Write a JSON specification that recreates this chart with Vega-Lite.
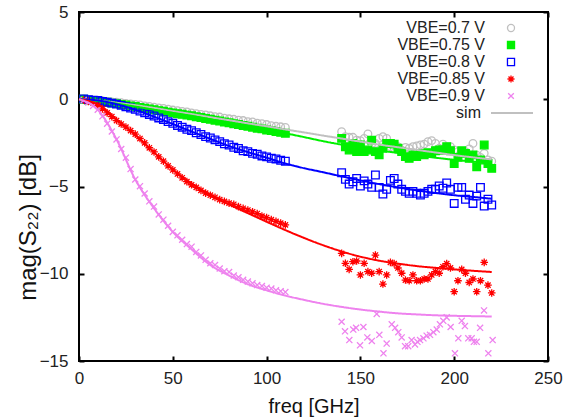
{
"$schema":"https://vega.github.io/schema/vega-lite/v6.json",
"width":469,"height":349,
"autosize":{"type":"none"},
"padding":{"left":79,"top":12,"right":16,"bottom":59},
"background":"white",
"config":{
"view":{"stroke":"black","strokeWidth":2},
"font":"Liberation Sans",
"axis":{"grid":false,"domain":false,"tickColor":"black","tickWidth":2,"tickSize":-5,"labelFont":"Liberation Sans","labelFontSize":17,"labelColor":"#222","labelFlush":false,"labelOverlap":false,"titleFont":"Liberation Sans","titleFontWeight":"normal","titleColor":"#111"}
},
"data":{"values":[
{"s":"0.7","k":"s","f":0,"v":0},{"s":"0.7","k":"s","f":10,"v":-0.08},{"s":"0.7","k":"s","f":20,"v":-0.2},{"s":"0.7","k":"s","f":30,"v":-0.34},{"s":"0.7","k":"s","f":40,"v":-0.5},{"s":"0.7","k":"s","f":50,"v":-0.68},{"s":"0.7","k":"s","f":60,"v":-0.85},{"s":"0.7","k":"s","f":70,"v":-1.03},{"s":"0.7","k":"s","f":80,"v":-1.2},{"s":"0.7","k":"s","f":90,"v":-1.38},{"s":"0.7","k":"s","f":100,"v":-1.55},{"s":"0.7","k":"s","f":110,"v":-1.73},{"s":"0.7","k":"s","f":120,"v":-1.9},{"s":"0.7","k":"s","f":130,"v":-2.08},{"s":"0.7","k":"s","f":140,"v":-2.25},{"s":"0.7","k":"s","f":150,"v":-2.43},{"s":"0.7","k":"s","f":160,"v":-2.6},{"s":"0.7","k":"s","f":170,"v":-2.75},{"s":"0.7","k":"s","f":180,"v":-2.9},{"s":"0.7","k":"s","f":190,"v":-3.05},{"s":"0.7","k":"s","f":200,"v":-3.2},{"s":"0.7","k":"s","f":210,"v":-3.33},{"s":"0.7","k":"s","f":220,"v":-3.45},
{"s":"0.75","k":"s","f":0,"v":0},{"s":"0.75","k":"s","f":10,"v":-0.1},{"s":"0.75","k":"s","f":20,"v":-0.25},{"s":"0.75","k":"s","f":30,"v":-0.42},{"s":"0.75","k":"s","f":40,"v":-0.6},{"s":"0.75","k":"s","f":50,"v":-0.78},{"s":"0.75","k":"s","f":60,"v":-0.95},{"s":"0.75","k":"s","f":70,"v":-1.15},{"s":"0.75","k":"s","f":80,"v":-1.35},{"s":"0.75","k":"s","f":90,"v":-1.55},{"s":"0.75","k":"s","f":100,"v":-1.75},{"s":"0.75","k":"s","f":110,"v":-1.95},{"s":"0.75","k":"s","f":120,"v":-2.17},{"s":"0.75","k":"s","f":130,"v":-2.4},{"s":"0.75","k":"s","f":140,"v":-2.6},{"s":"0.75","k":"s","f":150,"v":-2.78},{"s":"0.75","k":"s","f":160,"v":-2.93},{"s":"0.75","k":"s","f":170,"v":-3.08},{"s":"0.75","k":"s","f":180,"v":-3.22},{"s":"0.75","k":"s","f":190,"v":-3.35},{"s":"0.75","k":"s","f":200,"v":-3.47},{"s":"0.75","k":"s","f":210,"v":-3.57},{"s":"0.75","k":"s","f":220,"v":-3.67},
{"s":"0.8","k":"s","f":0,"v":0},{"s":"0.8","k":"s","f":10,"v":-0.07},{"s":"0.8","k":"s","f":20,"v":-0.28},{"s":"0.8","k":"s","f":30,"v":-0.6},{"s":"0.8","k":"s","f":40,"v":-1.0},{"s":"0.8","k":"s","f":50,"v":-1.42},{"s":"0.8","k":"s","f":60,"v":-1.85},{"s":"0.8","k":"s","f":70,"v":-2.27},{"s":"0.8","k":"s","f":80,"v":-2.68},{"s":"0.8","k":"s","f":90,"v":-3.03},{"s":"0.8","k":"s","f":100,"v":-3.35},{"s":"0.8","k":"s","f":110,"v":-3.68},{"s":"0.8","k":"s","f":120,"v":-3.95},{"s":"0.8","k":"s","f":130,"v":-4.18},{"s":"0.8","k":"s","f":140,"v":-4.42},{"s":"0.8","k":"s","f":150,"v":-4.65},{"s":"0.8","k":"s","f":160,"v":-4.86},{"s":"0.8","k":"s","f":170,"v":-5.05},{"s":"0.8","k":"s","f":180,"v":-5.22},{"s":"0.8","k":"s","f":190,"v":-5.37},{"s":"0.8","k":"s","f":200,"v":-5.5},{"s":"0.8","k":"s","f":210,"v":-5.6},{"s":"0.8","k":"s","f":220,"v":-5.7},
{"s":"0.85","k":"s","f":0,"v":0},{"s":"0.85","k":"s","f":10,"v":-0.3},{"s":"0.85","k":"s","f":20,"v":-1.15},{"s":"0.85","k":"s","f":30,"v":-2.05},{"s":"0.85","k":"s","f":40,"v":-3.05},{"s":"0.85","k":"s","f":50,"v":-4.02},{"s":"0.85","k":"s","f":60,"v":-4.82},{"s":"0.85","k":"s","f":70,"v":-5.48},{"s":"0.85","k":"s","f":80,"v":-6.03},{"s":"0.85","k":"s","f":90,"v":-6.53},{"s":"0.85","k":"s","f":100,"v":-7.02},{"s":"0.85","k":"s","f":110,"v":-7.5},{"s":"0.85","k":"s","f":120,"v":-7.95},{"s":"0.85","k":"s","f":130,"v":-8.36},{"s":"0.85","k":"s","f":140,"v":-8.72},{"s":"0.85","k":"s","f":150,"v":-9.02},{"s":"0.85","k":"s","f":160,"v":-9.25},{"s":"0.85","k":"s","f":170,"v":-9.42},{"s":"0.85","k":"s","f":180,"v":-9.56},{"s":"0.85","k":"s","f":190,"v":-9.66},{"s":"0.85","k":"s","f":200,"v":-9.75},{"s":"0.85","k":"s","f":210,"v":-9.83},{"s":"0.85","k":"s","f":220,"v":-9.9},
{"s":"0.9","k":"s","f":0,"v":0},{"s":"0.9","k":"s","f":10,"v":-0.6},{"s":"0.9","k":"s","f":20,"v":-2.3},{"s":"0.9","k":"s","f":30,"v":-4.6},{"s":"0.9","k":"s","f":40,"v":-6.25},{"s":"0.9","k":"s","f":50,"v":-7.6},{"s":"0.9","k":"s","f":60,"v":-8.6},{"s":"0.9","k":"s","f":70,"v":-9.5},{"s":"0.9","k":"s","f":80,"v":-10.1},{"s":"0.9","k":"s","f":90,"v":-10.6},{"s":"0.9","k":"s","f":100,"v":-10.95},{"s":"0.9","k":"s","f":110,"v":-11.25},{"s":"0.9","k":"s","f":120,"v":-11.5},{"s":"0.9","k":"s","f":130,"v":-11.72},{"s":"0.9","k":"s","f":140,"v":-11.9},{"s":"0.9","k":"s","f":150,"v":-12.05},{"s":"0.9","k":"s","f":160,"v":-12.17},{"s":"0.9","k":"s","f":170,"v":-12.27},{"s":"0.9","k":"s","f":180,"v":-12.33},{"s":"0.9","k":"s","f":190,"v":-12.38},{"s":"0.9","k":"s","f":200,"v":-12.41},{"s":"0.9","k":"s","f":210,"v":-12.43},{"s":"0.9","k":"s","f":220,"v":-12.45},

{"s":"0.7","k":"m","f":2.5,"v":0.02},{"s":"0.7","k":"m","f":5,"v":-0.02},{"s":"0.7","k":"m","f":7.5,"v":-0.05},{"s":"0.7","k":"m","f":10,"v":-0.06},{"s":"0.7","k":"m","f":12.5,"v":-0.09},{"s":"0.7","k":"m","f":15,"v":-0.12},{"s":"0.7","k":"m","f":17.5,"v":-0.15},{"s":"0.7","k":"m","f":20,"v":-0.17},{"s":"0.7","k":"m","f":22.5,"v":-0.2},{"s":"0.7","k":"m","f":25,"v":-0.24},{"s":"0.7","k":"m","f":27.5,"v":-0.27},{"s":"0.7","k":"m","f":30,"v":-0.3},{"s":"0.7","k":"m","f":32.5,"v":-0.33},{"s":"0.7","k":"m","f":35,"v":-0.38},{"s":"0.7","k":"m","f":37.5,"v":-0.41},{"s":"0.7","k":"m","f":40,"v":-0.45},{"s":"0.7","k":"m","f":42.5,"v":-0.5},{"s":"0.7","k":"m","f":45,"v":-0.53},{"s":"0.7","k":"m","f":47.5,"v":-0.57},{"s":"0.7","k":"m","f":50,"v":-0.62},{"s":"0.7","k":"m","f":52.5,"v":-0.66},{"s":"0.7","k":"m","f":55,"v":-0.7},{"s":"0.7","k":"m","f":57.5,"v":-0.73},{"s":"0.7","k":"m","f":60,"v":-0.78},{"s":"0.7","k":"m","f":62.5,"v":-0.83},{"s":"0.7","k":"m","f":65,"v":-0.87},{"s":"0.7","k":"m","f":67.5,"v":-0.9},{"s":"0.7","k":"m","f":70,"v":-0.95},{"s":"0.7","k":"m","f":72.5,"v":-1.0},{"s":"0.7","k":"m","f":75,"v":-1.02},{"s":"0.7","k":"m","f":77.5,"v":-1.08},{"s":"0.7","k":"m","f":80,"v":-1.12},{"s":"0.7","k":"m","f":82.5,"v":-1.15},{"s":"0.7","k":"m","f":85,"v":-1.2},{"s":"0.7","k":"m","f":87.5,"v":-1.22},{"s":"0.7","k":"m","f":90,"v":-1.29},{"s":"0.7","k":"m","f":92.5,"v":-1.3},{"s":"0.7","k":"m","f":95,"v":-1.37},{"s":"0.7","k":"m","f":97.5,"v":-1.4},{"s":"0.7","k":"m","f":100,"v":-1.45},{"s":"0.7","k":"m","f":102.5,"v":-1.52},{"s":"0.7","k":"m","f":105,"v":-1.55},{"s":"0.7","k":"m","f":107.5,"v":-1.58},{"s":"0.7","k":"m","f":110,"v":-1.62},
{"s":"0.7","k":"m","f":140,"v":-1.86},{"s":"0.7","k":"m","f":142,"v":-2.15},{"s":"0.7","k":"m","f":144,"v":-2.18},{"s":"0.7","k":"m","f":146,"v":-2.18},{"s":"0.7","k":"m","f":148,"v":-2.34},{"s":"0.7","k":"m","f":150,"v":-2.37},{"s":"0.7","k":"m","f":152,"v":-2.24},{"s":"0.7","k":"m","f":154,"v":-1.99},{"s":"0.7","k":"m","f":156,"v":-2.57},{"s":"0.7","k":"m","f":158,"v":-2.53},{"s":"0.7","k":"m","f":160,"v":-2.24},{"s":"0.7","k":"m","f":162,"v":-2.15},{"s":"0.7","k":"m","f":164,"v":-2.24},{"s":"0.7","k":"m","f":166,"v":-2.72},{"s":"0.7","k":"m","f":168,"v":-2.81},{"s":"0.7","k":"m","f":170,"v":-2.72},{"s":"0.7","k":"m","f":172,"v":-2.91},{"s":"0.7","k":"m","f":174,"v":-2.76},{"s":"0.7","k":"m","f":176,"v":-2.81},{"s":"0.7","k":"m","f":178,"v":-2.72},{"s":"0.7","k":"m","f":180,"v":-2.68},{"s":"0.7","k":"m","f":182,"v":-2.62},{"s":"0.7","k":"m","f":184,"v":-2.57},{"s":"0.7","k":"m","f":186,"v":-2.43},{"s":"0.7","k":"m","f":188,"v":-2.37},{"s":"0.7","k":"m","f":190,"v":-2.53},{"s":"0.7","k":"m","f":192,"v":-2.81},{"s":"0.7","k":"m","f":194,"v":-2.57},{"s":"0.7","k":"m","f":196,"v":-2.72},{"s":"0.7","k":"m","f":198,"v":-2.72},{"s":"0.7","k":"m","f":200,"v":-2.9},{"s":"0.7","k":"m","f":202,"v":-3.0},{"s":"0.7","k":"m","f":204,"v":-3.1},{"s":"0.7","k":"m","f":206,"v":-3.0},{"s":"0.7","k":"m","f":208,"v":-2.85},{"s":"0.7","k":"m","f":210,"v":-2.53},{"s":"0.7","k":"m","f":212,"v":-3.2},{"s":"0.7","k":"m","f":214,"v":-3.33},{"s":"0.7","k":"m","f":216,"v":-3.1},{"s":"0.7","k":"m","f":218,"v":-3.48},{"s":"0.7","k":"m","f":220,"v":-3.55},

{"s":"0.75","k":"m","f":2.5,"v":0.0},{"s":"0.75","k":"m","f":5,"v":-0.05},{"s":"0.75","k":"m","f":7.5,"v":-0.08},{"s":"0.75","k":"m","f":10,"v":-0.1},{"s":"0.75","k":"m","f":12.5,"v":-0.14},{"s":"0.75","k":"m","f":15,"v":-0.17},{"s":"0.75","k":"m","f":17.5,"v":-0.22},{"s":"0.75","k":"m","f":20,"v":-0.25},{"s":"0.75","k":"m","f":22.5,"v":-0.3},{"s":"0.75","k":"m","f":25,"v":-0.33},{"s":"0.75","k":"m","f":27.5,"v":-0.38},{"s":"0.75","k":"m","f":30,"v":-0.42},{"s":"0.75","k":"m","f":32.5,"v":-0.47},{"s":"0.75","k":"m","f":35,"v":-0.51},{"s":"0.75","k":"m","f":37.5,"v":-0.55},{"s":"0.75","k":"m","f":40,"v":-0.6},{"s":"0.75","k":"m","f":42.5,"v":-0.65},{"s":"0.75","k":"m","f":45,"v":-0.69},{"s":"0.75","k":"m","f":47.5,"v":-0.74},{"s":"0.75","k":"m","f":50,"v":-0.78},{"s":"0.75","k":"m","f":52.5,"v":-0.83},{"s":"0.75","k":"m","f":55,"v":-0.86},{"s":"0.75","k":"m","f":57.5,"v":-0.91},{"s":"0.75","k":"m","f":60,"v":-0.95},{"s":"0.75","k":"m","f":62.5,"v":-1.0},{"s":"0.75","k":"m","f":65,"v":-1.05},{"s":"0.75","k":"m","f":67.5,"v":-1.1},{"s":"0.75","k":"m","f":70,"v":-1.15},{"s":"0.75","k":"m","f":72.5,"v":-1.2},{"s":"0.75","k":"m","f":75,"v":-1.25},{"s":"0.75","k":"m","f":77.5,"v":-1.3},{"s":"0.75","k":"m","f":80,"v":-1.35},{"s":"0.75","k":"m","f":82.5,"v":-1.4},{"s":"0.75","k":"m","f":85,"v":-1.45},{"s":"0.75","k":"m","f":87.5,"v":-1.5},{"s":"0.75","k":"m","f":90,"v":-1.55},{"s":"0.75","k":"m","f":92.5,"v":-1.6},{"s":"0.75","k":"m","f":95,"v":-1.66},{"s":"0.75","k":"m","f":97.5,"v":-1.7},{"s":"0.75","k":"m","f":100,"v":-1.76},{"s":"0.75","k":"m","f":102.5,"v":-1.8},{"s":"0.75","k":"m","f":105,"v":-1.85},{"s":"0.75","k":"m","f":107.5,"v":-1.9},{"s":"0.75","k":"m","f":110,"v":-1.95},
{"s":"0.75","k":"m","f":140,"v":-2.24},{"s":"0.75","k":"m","f":142,"v":-2.72},{"s":"0.75","k":"m","f":144,"v":-2.91},{"s":"0.75","k":"m","f":146,"v":-2.53},{"s":"0.75","k":"m","f":148,"v":-3.0},{"s":"0.75","k":"m","f":150,"v":-2.62},{"s":"0.75","k":"m","f":152,"v":-3.0},{"s":"0.75","k":"m","f":154,"v":-2.91},{"s":"0.75","k":"m","f":156,"v":-2.34},{"s":"0.75","k":"m","f":158,"v":-3.0},{"s":"0.75","k":"m","f":160,"v":-3.19},{"s":"0.75","k":"m","f":162,"v":-2.81},{"s":"0.75","k":"m","f":164,"v":-2.53},{"s":"0.75","k":"m","f":166,"v":-2.53},{"s":"0.75","k":"m","f":168,"v":-2.57},{"s":"0.75","k":"m","f":170,"v":-2.81},{"s":"0.75","k":"m","f":172,"v":-3.0},{"s":"0.75","k":"m","f":174,"v":-3.29},{"s":"0.75","k":"m","f":176,"v":-3.39},{"s":"0.75","k":"m","f":178,"v":-3.19},{"s":"0.75","k":"m","f":180,"v":-3.29},{"s":"0.75","k":"m","f":182,"v":-3.1},{"s":"0.75","k":"m","f":184,"v":-3.19},{"s":"0.75","k":"m","f":186,"v":-3.06},{"s":"0.75","k":"m","f":188,"v":-3.1},{"s":"0.75","k":"m","f":190,"v":-2.95},{"s":"0.75","k":"m","f":192,"v":-2.91},{"s":"0.75","k":"m","f":194,"v":-2.91},{"s":"0.75","k":"m","f":196,"v":-2.72},{"s":"0.75","k":"m","f":198,"v":-2.95},{"s":"0.75","k":"m","f":200,"v":-3.68},{"s":"0.75","k":"m","f":202,"v":-3.33},{"s":"0.75","k":"m","f":204,"v":-2.95},{"s":"0.75","k":"m","f":206,"v":-3.1},{"s":"0.75","k":"m","f":208,"v":-3.39},{"s":"0.75","k":"m","f":210,"v":-3.19},{"s":"0.75","k":"m","f":212,"v":-3.87},{"s":"0.75","k":"m","f":214,"v":-3.48},{"s":"0.75","k":"m","f":216,"v":-2.62},{"s":"0.75","k":"m","f":218,"v":-3.68},{"s":"0.75","k":"m","f":220,"v":-3.96},

{"s":"0.8","k":"m","f":2.5,"v":0.02},{"s":"0.8","k":"m","f":5,"v":-0.02},{"s":"0.8","k":"m","f":7.5,"v":-0.05},{"s":"0.8","k":"m","f":10,"v":-0.07},{"s":"0.8","k":"m","f":12.5,"v":-0.12},{"s":"0.8","k":"m","f":15,"v":-0.17},{"s":"0.8","k":"m","f":17.5,"v":-0.22},{"s":"0.8","k":"m","f":20,"v":-0.28},{"s":"0.8","k":"m","f":22.5,"v":-0.35},{"s":"0.8","k":"m","f":25,"v":-0.43},{"s":"0.8","k":"m","f":27.5,"v":-0.5},{"s":"0.8","k":"m","f":30,"v":-0.58},{"s":"0.8","k":"m","f":32.5,"v":-0.68},{"s":"0.8","k":"m","f":35,"v":-0.77},{"s":"0.8","k":"m","f":37.5,"v":-0.87},{"s":"0.8","k":"m","f":40,"v":-0.96},{"s":"0.8","k":"m","f":42.5,"v":-1.07},{"s":"0.8","k":"m","f":45,"v":-1.17},{"s":"0.8","k":"m","f":47.5,"v":-1.28},{"s":"0.8","k":"m","f":50,"v":-1.38},{"s":"0.8","k":"m","f":52.5,"v":-1.5},{"s":"0.8","k":"m","f":55,"v":-1.6},{"s":"0.8","k":"m","f":57.5,"v":-1.72},{"s":"0.8","k":"m","f":60,"v":-1.8},{"s":"0.8","k":"m","f":62.5,"v":-1.92},{"s":"0.8","k":"m","f":65,"v":-2.02},{"s":"0.8","k":"m","f":67.5,"v":-2.14},{"s":"0.8","k":"m","f":70,"v":-2.22},{"s":"0.8","k":"m","f":72.5,"v":-2.33},{"s":"0.8","k":"m","f":75,"v":-2.43},{"s":"0.8","k":"m","f":77.5,"v":-2.55},{"s":"0.8","k":"m","f":80,"v":-2.62},{"s":"0.8","k":"m","f":82.5,"v":-2.75},{"s":"0.8","k":"m","f":85,"v":-2.82},{"s":"0.8","k":"m","f":87.5,"v":-2.95},{"s":"0.8","k":"m","f":90,"v":-3.0},{"s":"0.8","k":"m","f":92.5,"v":-3.1},{"s":"0.8","k":"m","f":95,"v":-3.15},{"s":"0.8","k":"m","f":97.5,"v":-3.25},{"s":"0.8","k":"m","f":100,"v":-3.3},{"s":"0.8","k":"m","f":102.5,"v":-3.38},{"s":"0.8","k":"m","f":105,"v":-3.42},{"s":"0.8","k":"m","f":107.5,"v":-3.5},{"s":"0.8","k":"m","f":110,"v":-3.55},
{"s":"0.8","k":"m","f":140,"v":-4.21},{"s":"0.8","k":"m","f":142,"v":-4.59},{"s":"0.8","k":"m","f":144,"v":-4.86},{"s":"0.8","k":"m","f":146,"v":-4.73},{"s":"0.8","k":"m","f":148,"v":-4.54},{"s":"0.8","k":"m","f":150,"v":-4.97},{"s":"0.8","k":"m","f":152,"v":-4.68},{"s":"0.8","k":"m","f":154,"v":-4.86},{"s":"0.8","k":"m","f":156,"v":-5.05},{"s":"0.8","k":"m","f":158,"v":-4.34},{"s":"0.8","k":"m","f":160,"v":-5.05},{"s":"0.8","k":"m","f":162,"v":-5.43},{"s":"0.8","k":"m","f":164,"v":-5.16},{"s":"0.8","k":"m","f":166,"v":-4.65},{"s":"0.8","k":"m","f":168,"v":-4.54},{"s":"0.8","k":"m","f":170,"v":-4.86},{"s":"0.8","k":"m","f":172,"v":-5.16},{"s":"0.8","k":"m","f":174,"v":-5.28},{"s":"0.8","k":"m","f":176,"v":-5.39},{"s":"0.8","k":"m","f":178,"v":-5.28},{"s":"0.8","k":"m","f":180,"v":-5.39},{"s":"0.8","k":"m","f":182,"v":-5.49},{"s":"0.8","k":"m","f":184,"v":-5.39},{"s":"0.8","k":"m","f":186,"v":-5.28},{"s":"0.8","k":"m","f":188,"v":-5.16},{"s":"0.8","k":"m","f":190,"v":-5.16},{"s":"0.8","k":"m","f":192,"v":-4.97},{"s":"0.8","k":"m","f":194,"v":-5.1},{"s":"0.8","k":"m","f":196,"v":-4.8},{"s":"0.8","k":"m","f":198,"v":-5.16},{"s":"0.8","k":"m","f":200,"v":-5.97},{"s":"0.8","k":"m","f":202,"v":-5.05},{"s":"0.8","k":"m","f":204,"v":-5.05},{"s":"0.8","k":"m","f":206,"v":-5.73},{"s":"0.8","k":"m","f":208,"v":-5.49},{"s":"0.8","k":"m","f":210,"v":-5.97},{"s":"0.8","k":"m","f":212,"v":-5.55},{"s":"0.8","k":"m","f":214,"v":-5.05},{"s":"0.8","k":"m","f":216,"v":-6.12},{"s":"0.8","k":"m","f":218,"v":-5.73},{"s":"0.8","k":"m","f":220,"v":-6.06},

{"s":"0.85","k":"m","f":2.5,"v":-0.05},{"s":"0.85","k":"m","f":5,"v":-0.12},{"s":"0.85","k":"m","f":7.5,"v":-0.22},{"s":"0.85","k":"m","f":10,"v":-0.35},{"s":"0.85","k":"m","f":12.5,"v":-0.55},{"s":"0.85","k":"m","f":15,"v":-0.78},{"s":"0.85","k":"m","f":17.5,"v":-1.0},{"s":"0.85","k":"m","f":20,"v":-1.22},{"s":"0.85","k":"m","f":22.5,"v":-1.42},{"s":"0.85","k":"m","f":25,"v":-1.6},{"s":"0.85","k":"m","f":27.5,"v":-1.8},{"s":"0.85","k":"m","f":30,"v":-2.0},{"s":"0.85","k":"m","f":32.5,"v":-2.25},{"s":"0.85","k":"m","f":35,"v":-2.5},{"s":"0.85","k":"m","f":37.5,"v":-2.78},{"s":"0.85","k":"m","f":40,"v":-3.02},{"s":"0.85","k":"m","f":42.5,"v":-3.3},{"s":"0.85","k":"m","f":45,"v":-3.55},{"s":"0.85","k":"m","f":47.5,"v":-3.82},{"s":"0.85","k":"m","f":50,"v":-4.05},{"s":"0.85","k":"m","f":52.5,"v":-4.28},{"s":"0.85","k":"m","f":55,"v":-4.5},{"s":"0.85","k":"m","f":57.5,"v":-4.72},{"s":"0.85","k":"m","f":60,"v":-4.9},{"s":"0.85","k":"m","f":62.5,"v":-5.05},{"s":"0.85","k":"m","f":65,"v":-5.22},{"s":"0.85","k":"m","f":67.5,"v":-5.38},{"s":"0.85","k":"m","f":70,"v":-5.5},{"s":"0.85","k":"m","f":72.5,"v":-5.62},{"s":"0.85","k":"m","f":75,"v":-5.75},{"s":"0.85","k":"m","f":77.5,"v":-5.85},{"s":"0.85","k":"m","f":80,"v":-5.95},{"s":"0.85","k":"m","f":82.5,"v":-6.02},{"s":"0.85","k":"m","f":85,"v":-6.15},{"s":"0.85","k":"m","f":87.5,"v":-6.25},{"s":"0.85","k":"m","f":90,"v":-6.35},{"s":"0.85","k":"m","f":92.5,"v":-6.45},{"s":"0.85","k":"m","f":95,"v":-6.55},{"s":"0.85","k":"m","f":97.5,"v":-6.7},{"s":"0.85","k":"m","f":100,"v":-6.78},{"s":"0.85","k":"m","f":102.5,"v":-6.9},{"s":"0.85","k":"m","f":105,"v":-7.0},{"s":"0.85","k":"m","f":107.5,"v":-7.1},{"s":"0.85","k":"m","f":110,"v":-7.2},
{"s":"0.85","k":"m","f":140,"v":-8.83},{"s":"0.85","k":"m","f":142,"v":-9.4},{"s":"0.85","k":"m","f":144,"v":-9.75},{"s":"0.85","k":"m","f":146,"v":-9.31},{"s":"0.85","k":"m","f":148,"v":-9.27},{"s":"0.85","k":"m","f":150,"v":-10.07},{"s":"0.85","k":"m","f":152,"v":-9.4},{"s":"0.85","k":"m","f":154,"v":-9.88},{"s":"0.85","k":"m","f":156,"v":-9.97},{"s":"0.85","k":"m","f":158,"v":-8.93},{"s":"0.85","k":"m","f":160,"v":-9.88},{"s":"0.85","k":"m","f":162,"v":-10.59},{"s":"0.85","k":"m","f":164,"v":-10.07},{"s":"0.85","k":"m","f":166,"v":-9.35},{"s":"0.85","k":"m","f":168,"v":-9.42},{"s":"0.85","k":"m","f":170,"v":-9.67},{"s":"0.85","k":"m","f":172,"v":-9.97},{"s":"0.85","k":"m","f":174,"v":-10.36},{"s":"0.85","k":"m","f":176,"v":-10.4},{"s":"0.85","k":"m","f":178,"v":-10.07},{"s":"0.85","k":"m","f":180,"v":-10.4},{"s":"0.85","k":"m","f":182,"v":-10.4},{"s":"0.85","k":"m","f":184,"v":-10.3},{"s":"0.85","k":"m","f":186,"v":-10.3},{"s":"0.85","k":"m","f":188,"v":-10.07},{"s":"0.85","k":"m","f":190,"v":-9.88},{"s":"0.85","k":"m","f":192,"v":-9.97},{"s":"0.85","k":"m","f":194,"v":-9.6},{"s":"0.85","k":"m","f":196,"v":-9.42},{"s":"0.85","k":"m","f":198,"v":-9.67},{"s":"0.85","k":"m","f":200,"v":-11.03},{"s":"0.85","k":"m","f":202,"v":-10.4},{"s":"0.85","k":"m","f":204,"v":-9.75},{"s":"0.85","k":"m","f":206,"v":-9.97},{"s":"0.85","k":"m","f":208,"v":-10.5},{"s":"0.85","k":"m","f":210,"v":-10.3},{"s":"0.85","k":"m","f":212,"v":-11.03},{"s":"0.85","k":"m","f":214,"v":-10.4},{"s":"0.85","k":"m","f":216,"v":-9.35},{"s":"0.85","k":"m","f":218,"v":-10.65},{"s":"0.85","k":"m","f":220,"v":-11.1},

{"s":"0.9","k":"m","f":2.5,"v":-0.05},{"s":"0.9","k":"m","f":5,"v":-0.18},{"s":"0.9","k":"m","f":7.5,"v":-0.38},{"s":"0.9","k":"m","f":10,"v":-0.6},{"s":"0.9","k":"m","f":12.5,"v":-0.98},{"s":"0.9","k":"m","f":15,"v":-1.4},{"s":"0.9","k":"m","f":17.5,"v":-1.85},{"s":"0.9","k":"m","f":20,"v":-2.3},{"s":"0.9","k":"m","f":22.5,"v":-2.85},{"s":"0.9","k":"m","f":25,"v":-3.35},{"s":"0.9","k":"m","f":27.5,"v":-4.0},{"s":"0.9","k":"m","f":30,"v":-4.6},{"s":"0.9","k":"m","f":32.5,"v":-4.98},{"s":"0.9","k":"m","f":35,"v":-5.4},{"s":"0.9","k":"m","f":37.5,"v":-5.85},{"s":"0.9","k":"m","f":40,"v":-6.15},{"s":"0.9","k":"m","f":42.5,"v":-6.6},{"s":"0.9","k":"m","f":45,"v":-6.9},{"s":"0.9","k":"m","f":47.5,"v":-7.25},{"s":"0.9","k":"m","f":50,"v":-7.6},{"s":"0.9","k":"m","f":52.5,"v":-7.8},{"s":"0.9","k":"m","f":55,"v":-8.05},{"s":"0.9","k":"m","f":57.5,"v":-8.3},{"s":"0.9","k":"m","f":60,"v":-8.45},{"s":"0.9","k":"m","f":62.5,"v":-8.75},{"s":"0.9","k":"m","f":65,"v":-8.95},{"s":"0.9","k":"m","f":67.5,"v":-9.2},{"s":"0.9","k":"m","f":70,"v":-9.4},{"s":"0.9","k":"m","f":72.5,"v":-9.5},{"s":"0.9","k":"m","f":75,"v":-9.7},{"s":"0.9","k":"m","f":77.5,"v":-9.85},{"s":"0.9","k":"m","f":80,"v":-9.9},{"s":"0.9","k":"m","f":82.5,"v":-10.1},{"s":"0.9","k":"m","f":85,"v":-10.2},{"s":"0.9","k":"m","f":87.5,"v":-10.35},{"s":"0.9","k":"m","f":90,"v":-10.45},{"s":"0.9","k":"m","f":92.5,"v":-10.55},{"s":"0.9","k":"m","f":95,"v":-10.65},{"s":"0.9","k":"m","f":97.5,"v":-10.7},{"s":"0.9","k":"m","f":100,"v":-10.8},{"s":"0.9","k":"m","f":102.5,"v":-10.85},{"s":"0.9","k":"m","f":105,"v":-10.95},{"s":"0.9","k":"m","f":107.5,"v":-11.0},{"s":"0.9","k":"m","f":110,"v":-11.05},
{"s":"0.9","k":"m","f":140.0,"v":-12.75},{"s":"0.9","k":"m","f":141.8,"v":-13.3},{"s":"0.9","k":"m","f":144.1,"v":-13.8},{"s":"0.9","k":"m","f":146.2,"v":-13.2},{"s":"0.9","k":"m","f":147.7,"v":-13.1},{"s":"0.9","k":"m","f":149.8,"v":-14.1},{"s":"0.9","k":"m","f":151.6,"v":-13.05},{"s":"0.9","k":"m","f":153.7,"v":-13.65},{"s":"0.9","k":"m","f":156.1,"v":-13.85},{"s":"0.9","k":"m","f":158.7,"v":-12.3},{"s":"0.9","k":"m","f":160.1,"v":-13.5},{"s":"0.9","k":"m","f":162.3,"v":-14.56},{"s":"0.9","k":"m","f":164.0,"v":-14.0},{"s":"0.9","k":"m","f":166.7,"v":-12.9},{"s":"0.9","k":"m","f":168.5,"v":-13.1},{"s":"0.9","k":"m","f":170.2,"v":-13.35},{"s":"0.9","k":"m","f":172.0,"v":-13.65},{"s":"0.9","k":"m","f":173.8,"v":-14.15},{"s":"0.9","k":"m","f":175.5,"v":-14.15},{"s":"0.9","k":"m","f":177.3,"v":-13.8},{"s":"0.9","k":"m","f":179.1,"v":-14.05},{"s":"0.9","k":"m","f":180.4,"v":-13.9},{"s":"0.9","k":"m","f":181.8,"v":-13.8},{"s":"0.9","k":"m","f":183.6,"v":-13.7},{"s":"0.9","k":"m","f":185.3,"v":-13.55},{"s":"0.9","k":"m","f":187.1,"v":-13.5},{"s":"0.9","k":"m","f":188.9,"v":-13.35},{"s":"0.9","k":"m","f":190.7,"v":-13.2},{"s":"0.9","k":"m","f":192.4,"v":-12.9},{"s":"0.9","k":"m","f":194.2,"v":-12.7},{"s":"0.9","k":"m","f":196.0,"v":-12.5},{"s":"0.9","k":"m","f":198.1,"v":-13.05},{"s":"0.9","k":"m","f":200.4,"v":-14.56},{"s":"0.9","k":"m","f":202.2,"v":-13.7},{"s":"0.9","k":"m","f":204.0,"v":-12.7},{"s":"0.9","k":"m","f":205.7,"v":-13.0},{"s":"0.9","k":"m","f":207.5,"v":-13.7},{"s":"0.9","k":"m","f":209.3,"v":-13.7},{"s":"0.9","k":"m","f":210.5,"v":-13.9},{"s":"0.9","k":"m","f":212.0,"v":-13.9},{"s":"0.9","k":"m","f":213.8,"v":-13.1},{"s":"0.9","k":"m","f":215.9,"v":-12.1},{"s":"0.9","k":"m","f":218.2,"v":-14.56},{"s":"0.9","k":"m","f":220.5,"v":-13.8}
]},
"layer":[
{
"transform":[{"filter":"datum.k == 'm'"}],
"mark":{"type":"point","filled":false,"size":58,"strokeWidth":1.3,"opacity":1},
"encoding":{
"x":{"field":"f","type":"quantitative","scale":{"domain":[0,250],"nice":false},"axis":{"orient":"top","values":[0,50,100,150,200,250],"labels":false,"title":null}},
"y":{"field":"v","type":"quantitative","scale":{"domain":[-15,5],"nice":false},"axis":{"orient":"right","values":[-15,-10,-5,0,5],"labels":false,"title":null}},
"color":{"field":"s","type":"nominal","scale":{"domain":["0.7","0.75","0.8","0.85","0.9"],"range":["#c0c0c0","#00f000","#0000ff","#ff0000","#ee82ee"]},
"legend":{"title":null,"orient":"none","legendX":424,"legendY":8,"padding":0,"labelAlign":"right","labelOffset":-34,"labelFontSize":16,"labelFont":"Liberation Sans","labelColor":"#222","rowPadding":1,"symbolSize":50,"symbolStrokeWidth":1.3,"labelExpr":"'VBE=' + datum.label + ' V'"}},
"shape":{"field":"s","type":"nominal","scale":{"domain":["0.7","0.75","0.8","0.85","0.9"],"range":["circle","square","square","M-1,0L1,0M0,-1L0,1M-0.7,-0.7L0.7,0.7M-0.7,0.7L0.7,-0.7","M-0.8,-0.8L0.8,0.8M-0.8,0.8L0.8,-0.8"]},
"legend":{"title":null,"orient":"none","legendX":424,"legendY":8,"padding":0,"labelAlign":"right","labelOffset":-34,"labelFontSize":16,"labelFont":"Liberation Sans","labelColor":"#222","rowPadding":1,"symbolSize":50,"symbolStrokeWidth":1.3,"labelExpr":"'VBE=' + datum.label + ' V'"}},
"fill":{"field":"s","type":"nominal","scale":{"domain":["0.7","0.75","0.8","0.85","0.9"],"range":["transparent","#00f000","transparent","transparent","transparent"]},
"legend":{"title":null,"orient":"none","legendX":424,"legendY":8,"padding":0,"labelAlign":"right","labelOffset":-34,"labelFontSize":16,"labelFont":"Liberation Sans","labelColor":"#222","rowPadding":1,"symbolSize":50,"symbolStrokeWidth":1.3,"labelExpr":"'VBE=' + datum.label + ' V'"}}
}
},
{
"transform":[{"filter":"datum.k == 's'"}],
"mark":{"type":"line","strokeWidth":2,"interpolate":"monotone"},
"encoding":{
"x":{"field":"f","type":"quantitative","scale":{"domain":[0,250],"nice":false},"axis":{"orient":"bottom","values":[0,50,100,150,200,250],"labelPadding":14,"title":"freq [GHz]","titleFontSize":20,"titleY":45,"titleBaseline":"middle"}},
"y":{"field":"v","type":"quantitative","scale":{"domain":[-15,5],"nice":false},"axis":{"orient":"left","values":[-15,-10,-5,0,5],"labelPadding":16,"title":"mag(S₂₂) [dB]","titleFontSize":24,"titleX":-51,"titleY":215,"titleBaseline":"middle"}},
"stroke":{"field":"s","type":"nominal","scale":{"domain":["0.7","0.75","0.8","0.85","0.9"],"range":["#c0c0c0","#00f000","#0000ff","#ff0000","#ee82ee"]},"legend":null},
"strokeDash":{"field":"k","type":"nominal","scale":{"domain":["s"],"range":[[1,0]]},
"legend":{"title":null,"orient":"none","legendX":411,"legendY":79,"padding":0,"labelAlign":"right","labelOffset":-53,"labelFontSize":16,"labelFont":"Liberation Sans","labelColor":"#222","symbolType":"stroke","symbolSize":1764,"symbolStrokeColor":"#c0c0c0","symbolStrokeWidth":2,"labelExpr":"'sim'"}}
}
}
],
"resolve":{"axis":{"x":"independent","y":"independent"}}
}
